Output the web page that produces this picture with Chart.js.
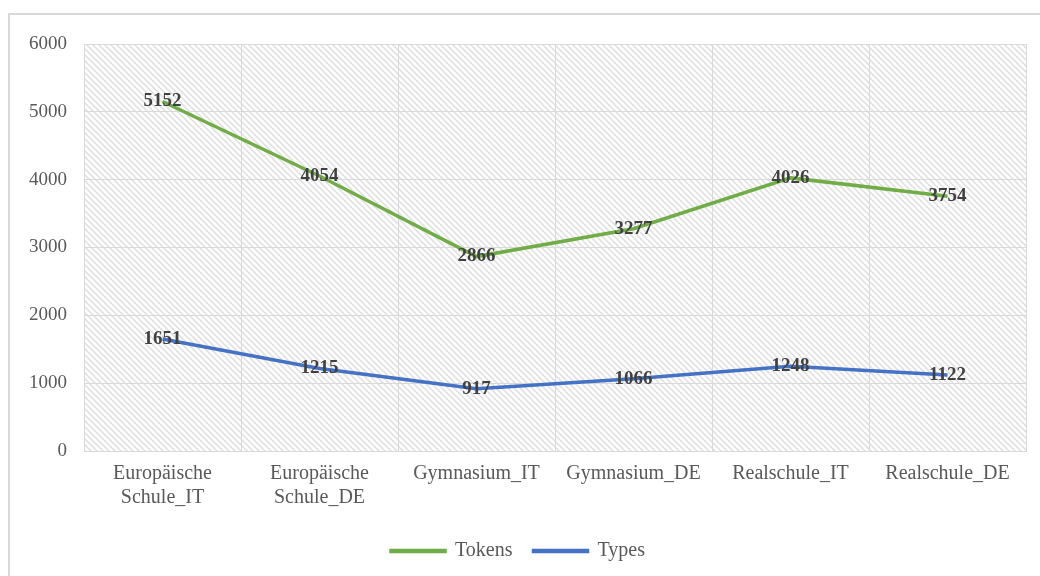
<!DOCTYPE html>
<html>
<head>
<meta charset="utf-8">
<script src="https://cdn.jsdelivr.net/npm/chart.js@4/dist/chart.umd.min.js"></script>
<style>
  html, body { margin: 0; padding: 0; background: #fff; overflow: hidden; }
  #wrap { width: 1040px; height: 576px; position: relative; }
</style>
</head>
<body>
<div id="wrap"><canvas id="chart" width="1040" height="576"></canvas></div>
<script>
const categories = [
  ['Europäische', 'Schule_IT'],
  ['Europäische', 'Schule_DE'],
  'Gymnasium_IT',
  'Gymnasium_DE',
  'Realschule_IT',
  'Realschule_DE',
];
const tokens = [5152, 4054, 2866, 3277, 4026, 3754];
const types = [1651, 1215, 917, 1066, 1248, 1122];

const FONT = "'Liberation Serif', 'DejaVu Serif', serif";
const GRID = '#d9d9d9';

function makeHatch() {
  const size = 6;
  const c = document.createElement('canvas');
  c.width = size;
  c.height = size;
  const ctx = c.getContext('2d');
  ctx.strokeStyle = '#dedede';
  ctx.lineWidth = 1.5;
  ctx.beginPath();
  ctx.moveTo(-1, -1); ctx.lineTo(size + 1, size + 1);
  ctx.moveTo(-1, size - 1); ctx.lineTo(1, size + 1);
  ctx.moveTo(size - 1, -1); ctx.lineTo(size + 1, 1);
  ctx.stroke();
  return ctx.createPattern(c, 'repeat');
}

// frame around the whole chart + hatched plot area
const backdrop = {
  id: 'backdrop',
  beforeDraw(chart) {
    const { ctx, chartArea: a } = chart;
    ctx.save();
    ctx.strokeStyle = GRID;
    ctx.lineWidth = 2;
    ctx.strokeRect(9, 14, 1200, 800);
    ctx.fillStyle = makeHatch();
    ctx.fillRect(a.left, a.top, a.right - a.left, a.bottom - a.top);
    ctx.restore();
  },
};

// value labels centred on each point
const valueLabels = {
  id: 'valueLabels',
  afterDatasetsDraw(chart) {
    const { ctx } = chart;
    ctx.save();
    ctx.font = `bold 19px ${FONT}`;
    ctx.fillStyle = '#404040';
    ctx.textAlign = 'center';
    ctx.textBaseline = 'middle';
    chart.data.datasets.forEach((ds, i) => {
      chart.getDatasetMeta(i).data.forEach((pt, j) => {
        ctx.fillText(String(ds.data[j]), pt.x, pt.y);
      });
    });
    ctx.restore();
  },
};

new Chart(document.getElementById('chart'), {
  type: 'line',
  data: {
    labels: categories,
    datasets: [
      {
        label: 'Tokens',
        data: tokens,
        borderColor: '#70ad47',
        backgroundColor: '#70ad47',
        borderWidth: 3.5,
        pointRadius: 0,
        tension: 0,
      },
      {
        label: 'Types',
        data: types,
        borderColor: '#4472c4',
        backgroundColor: '#4472c4',
        borderWidth: 3.5,
        pointRadius: 0,
        tension: 0,
      },
    ],
  },
  options: {
    responsive: false,
    animation: false,
    layout: {
      padding: { left: 10, right: 14, top: 44, bottom: 5 },
    },
    plugins: {
      legend: {
        position: 'bottom',
        labels: {
          boxWidth: 54,
          boxHeight: 1,
          padding: 21,
          color: '#595959',
          font: { family: FONT, size: 20 },
        },
      },
      tooltip: { enabled: false },
    },
    scales: {
      x: {
        offset: true,
        grid: { offset: true, color: GRID, lineWidth: 1, drawTicks: false },
        border: { color: GRID },
        ticks: {
          color: '#595959',
          padding: 11,
          maxRotation: 0,
          autoSkip: false,
          font: { family: FONT, size: 20, lineHeight: 1.2 },
        },
        afterFit(scale) { scale.height = 69; },
      },
      y: {
        min: 0,
        max: 6000,
        grid: { color: GRID, lineWidth: 1, drawTicks: false },
        border: { color: GRID },
        ticks: {
          stepSize: 1000,
          color: '#595959',
          padding: 17,
          font: { family: FONT, size: 19 },
          callback: (v) => String(v),
        },
        afterFit(scale) { scale.width = 74; },
      },
    },
  },
  plugins: [backdrop, valueLabels],
});
</script>
</body>
</html>
